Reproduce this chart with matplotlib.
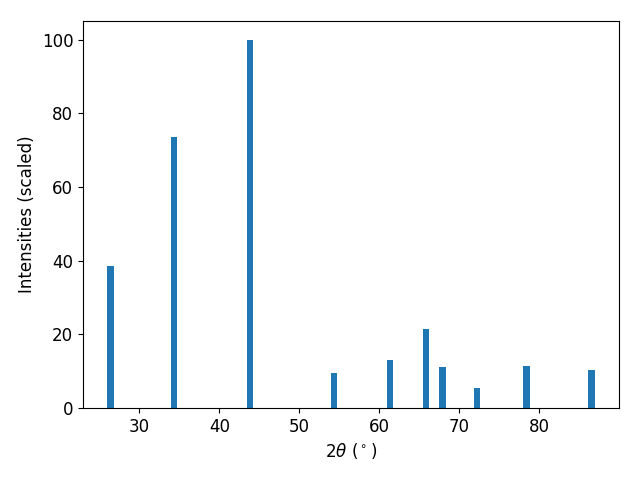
import matplotlib
matplotlib.use('Agg')
import matplotlib.pyplot as plt

two_theta = [26.4, 34.3, 43.8, 54.3, 61.3, 65.8, 67.9, 72.2, 78.4, 86.5]
intensity = [38.6, 73.6, 100.0, 9.5, 13.0, 21.5, 11.1, 5.4, 11.5, 10.3]

plt.rcParams['font.size'] = 12
fig, ax = plt.subplots(figsize=(6.4, 4.8), dpi=100)
ax.bar(two_theta, intensity, width=0.8)
ax.set_xlabel(r'$2\theta$ ($^\circ$)')
ax.set_ylabel('Intensities (scaled)')
fig.subplots_adjust(left=0.1297, right=0.967, top=0.956, bottom=0.15)
fig.savefig('out.png')
